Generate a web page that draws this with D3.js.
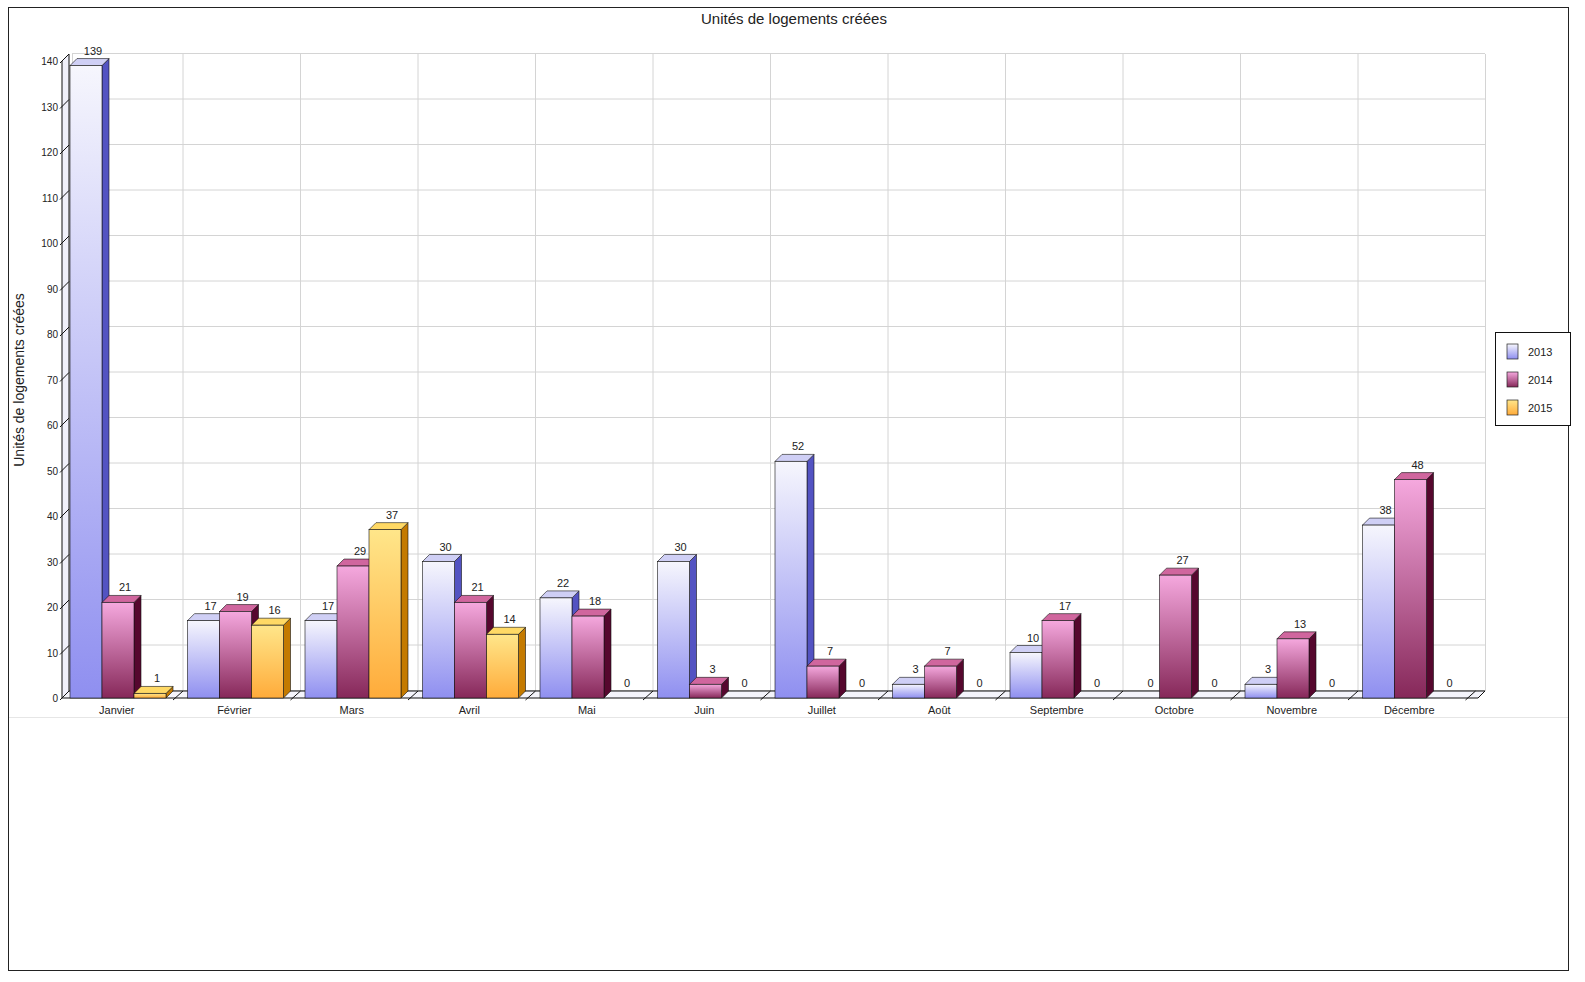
<!DOCTYPE html>
<html><head><meta charset="utf-8">
<script src="https://cdn.jsdelivr.net/npm/d3@7"></script>
<style>html,body{margin:0;background:#fff;overflow:hidden}svg{display:block}text{font-family:"Liberation Sans",Arial,sans-serif}</style>
</head><body><svg id="chart" width="1585" height="982"></svg>
<script>
var months = ["Janvier","Février","Mars","Avril","Mai","Juin","Juillet","Août","Septembre","Octobre","Novembre","Décembre"];
var years = ["2013","2014","2015"];
var v2013 = [139,17,17,30,22,30,52,3,10,0,3,38];
var v2014 = [21,19,29,21,18,3,7,7,17,27,13,48];
var v2015 = [1,16,37,14,0,0,0,0,0,0,0,0];
var yTicks = [0,10,20,30,40,50,60,70,80,90,100,110,120,130,140];

var series = [v2013, v2014, v2015];
var colors = [
  {top:"#f6f6fd", bot:"#8f8ff0", side:"#5353c2", cap:"#cfcff5"},
  {top:"#f5a8de", bot:"#862859", side:"#56072e", cap:"#d0669e"},
  {top:"#ffe68a", bot:"#ffab3a", side:"#c47a00", cap:"#ffd965"}
];
var dx = 7, dy = -7;

var svg = d3.select("#chart");
var defs = svg.append("defs");
colors.forEach(function(c, i) {
  var g = defs.append("linearGradient").attr("id", "g" + i).attr("x1", 0).attr("y1", 0).attr("x2", 0).attr("y2", 1);
  g.append("stop").attr("offset", "0%").attr("stop-color", c.top);
  g.append("stop").attr("offset", "100%").attr("stop-color", c.bot);
});

svg.append("rect").attr("x", 8.5).attr("y", 7.5).attr("width", 1560).attr("height", 963)
  .attr("fill", "none").attr("stroke", "#222");
svg.append("line").attr("x1", 9).attr("x2", 1568).attr("y1", 717.5).attr("y2", 717.5).attr("stroke", "#e6e6e6");

var x = d3.scaleBand().domain(months).range([58, 1468]);
var y = d3.scaleLinear().domain([0, 140]).range([698, 61]);
var xs = d3.scaleBand().domain(years).range([12, 108]);

// back grid
var grid = svg.append("g").attr("stroke", "#d4d4d4");
yTicks.forEach(function(t) {
  grid.append("line").attr("x1", 58 + 2*dx).attr("x2", 1478 + dx)
    .attr("y1", y(t) + dy - 0.5).attr("y2", y(t) + dy - 0.5);
});
months.concat([null]).forEach(function(m, i) {
  var xx = (m ? x(m) : 1478) + dx + 0.5 + (i === 0 ? dx : 0);
  grid.append("line").attr("x1", xx).attr("x2", xx).attr("y1", y(140) + dy).attr("y2", y(0) + dy);
});

// left wall
var wx = 62;
svg.append("path").attr("d", "M" + wx + "," + y(0) + "V" + y(140) + "l" + dx + "," + dy + "V" + (y(0) + dy) + "Z")
  .attr("fill", "#f0f0fa").attr("stroke", "#111");
yTicks.forEach(function(t) {
  svg.append("line").attr("x1", wx - 2).attr("y1", y(t) + 2).attr("x2", wx + dx).attr("y2", y(t) + dy)
    .attr("stroke", "#111");
  svg.append("text").attr("x", wx - 4).attr("y", y(t) + 4).attr("text-anchor", "end")
    .attr("font-size", 10).attr("fill", "#222").text(t);
});

// floor
svg.append("path").attr("d", "M" + wx + "," + y(0) + "H1478l" + dx + "," + dy + "H" + (wx + dx) + "Z")
  .attr("fill", "#f4f4fb").attr("stroke", "#111");
months.forEach(function(m) {
  var xx = x(m) + 118;
  svg.append("line").attr("x1", xx - 3).attr("y1", y(0) + 2).attr("x2", xx + dx).attr("y2", y(0) + dy).attr("stroke", "#111");
});

// bars
series.forEach(function(vals, si) {
  var c = colors[si];
  var g = svg.append("g");
  vals.forEach(function(v, mi) {
    var x0 = x(months[mi]) + xs(years[si]), w = xs.bandwidth(), y0 = y(v), yb = y(0);
    if (v > 0) {
      g.append("path").attr("d", "M" + (x0 + w) + "," + yb + "V" + y0 + "l" + dx + "," + dy + "V" + (yb + dy) + "Z")
        .attr("fill", c.side).attr("stroke", "#111").attr("stroke-width", 0.6);
      g.append("path").attr("d", "M" + x0 + "," + y0 + "l" + dx + "," + dy + "h" + w + "l" + (-dx) + "," + (-dy) + "Z")
        .attr("fill", c.cap).attr("stroke", "#111").attr("stroke-width", 0.6);
      g.append("rect").attr("x", x0).attr("y", y0).attr("width", w).attr("height", yb - y0)
        .attr("fill", "url(#g" + si + ")").attr("stroke", "#111").attr("stroke-width", 0.6);
    }
    g.append("text").attr("x", x0 + w/2 + dx).attr("y", y0 + dy - 4).attr("text-anchor", "middle")
      .attr("font-size", 11).attr("fill", "#222").text(v);
  });
});

// x labels
months.forEach(function(m) {
  svg.append("text").attr("x", x(m) + x.bandwidth()/2).attr("y", 714).attr("text-anchor", "middle")
    .attr("font-size", 11).attr("fill", "#222").text(m);
});

svg.append("text").attr("x", 794).attr("y", 24).attr("text-anchor", "middle").attr("font-size", 15)
  .attr("fill", "#222").text("Unités de logements créées");
svg.append("text").attr("transform", "translate(24,380) rotate(-90)").attr("text-anchor", "middle")
  .attr("font-size", 14).attr("fill", "#222").text("Unités de logements créées");

// legend
var lg = svg.append("g").attr("transform", "translate(1495,332)");
lg.append("rect").attr("x", 0.5).attr("y", 0.5).attr("width", 75).attr("height", 93).attr("fill", "#fff").attr("stroke", "#111");
years.forEach(function(yr, i) {
  lg.append("rect").attr("x", 12).attr("y", 12 + i*28).attr("width", 11).attr("height", 15)
    .attr("fill", "url(#g" + i + ")").attr("stroke", "#222").attr("stroke-width", 0.7);
  lg.append("text").attr("x", 33).attr("y", 24 + i*28).attr("font-size", 11).attr("fill", "#222").text(yr);
});
</script></body></html>
